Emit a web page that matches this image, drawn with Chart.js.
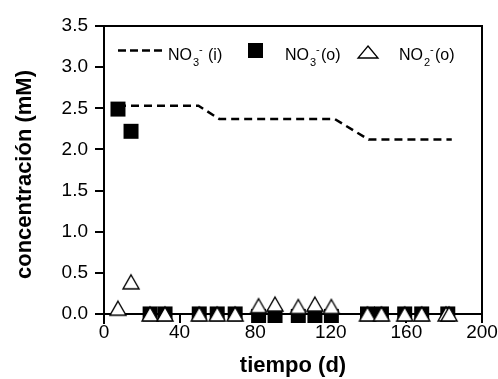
<!DOCTYPE html>
<html><head><meta charset="utf-8">
<script src="https://cdn.jsdelivr.net/npm/chart.js@4/dist/chart.umd.min.js"></script>
<style>html,body{margin:0;padding:0;background:#fff}#w{width:498px;height:379px;position:relative}</style>
</head><body><div id="w"><canvas id="c"></canvas></div>
<script>
// ---- data ----
const xTicks = [0, 40, 80, 120, 160, 200];
const yTicks = [0, 0.5, 1.0, 1.5, 2.0, 2.5, 3.0, 3.5];
const no3InDays = [7.4, 50, 61, 122, 140, 184];
const no3InVals = [2.53, 2.53, 2.37, 2.37, 2.12, 2.12];
const no3OutDays = [7.4, 14.3, 24.4, 32.3, 50.4, 59.9, 69.4, 81.8, 90.5, 102.8, 111.6, 120.3, 139.4, 146.8, 159.1, 168.1, 181.9];
const no3OutVals = [2.49, 2.22, 0, 0, 0, 0, 0, -0.03, -0.03, -0.03, -0.03, -0.03, 0, 0, 0, 0, 0];
const no2OutDays = [7.4, 14.3, 24.4, 32.3, 50.4, 59.9, 69.4, 81.8, 90.5, 102.8, 111.6, 120.3, 139.4, 146.8, 159.1, 168.1, 181.0, 182.6];
const no2OutVals = [0.07, 0.39, 0, 0, 0, 0, 0, 0.10, 0.12, 0.09, 0.12, 0.09, 0, 0, 0, 0, 0, 0];

const FONT = '"Liberation Sans", Arial, sans-serif';

// triangle marker centred on its bounding box
function makeTri(w, h, lw) {
  const c = document.createElement('canvas');
  const pad = 2;
  c.width = w + pad * 2; c.height = h + pad * 2;
  const g = c.getContext('2d');
  g.beginPath();
  g.moveTo(pad + w / 2, pad);
  g.lineTo(pad + w, pad + h);
  g.lineTo(pad, pad + h);
  g.closePath();
  g.fillStyle = '#fff'; g.fill();
  g.lineWidth = lw; g.strokeStyle = '#000'; g.lineJoin = 'miter'; g.stroke();
  return c;
}
const triImg = makeTri(16, 14, 1.4);

const framePlugin = {
  id: 'frame',
  beforeDatasetsDraw(chart) {
    const {ctx, chartArea: a, scales: {x, y}} = chart;
    const y0 = Math.round(y.getPixelForValue(0));
    ctx.save();
    ctx.strokeStyle = '#000'; ctx.lineWidth = 2; ctx.lineCap = 'butt';
    ctx.beginPath();
    ctx.moveTo(a.left, y0); ctx.lineTo(a.right, y0);
    ctx.moveTo(a.left - 1, a.top); ctx.lineTo(a.right + 1, a.top);
    ctx.moveTo(a.right, a.top); ctx.lineTo(a.right, a.bottom);
    xTicks.forEach(v => {
      const px = Math.round(x.getPixelForValue(v));
      ctx.moveTo(px, y0); ctx.lineTo(px, a.bottom);
    });
    ctx.stroke();
    ctx.restore();
  }
};

function chem(ctx, x, yb, sub, tail, gap) {
  ctx.font = '16px ' + FONT;
  ctx.fillText('NO', x, yb);
  let w = ctx.measureText('NO').width;
  ctx.font = '11px ' + FONT;
  ctx.fillText(sub, x + w + 1, yb + 6);
  ctx.fillText('-', x + w + 7, yb - 7);
  ctx.font = '16px ' + FONT;
  ctx.fillText(tail, x + w + 12 + gap, yb);
}

const legendPlugin = {
  id: 'customLegend',
  afterDraw(chart) {
    const {ctx, chartArea: a} = chart;
    const L = a.left, T = a.top;
    ctx.save();
    ctx.fillStyle = '#000'; ctx.strokeStyle = '#000';
    ctx.textBaseline = 'alphabetic';
    // dashed line
    ctx.lineWidth = 2.5; ctx.setLineDash([8, 4]);
    ctx.beginPath(); ctx.moveTo(L + 14, T + 24.5); ctx.lineTo(L + 60, T + 24.5); ctx.stroke();
    ctx.setLineDash([]);
    chem(ctx, L + 64, T + 34, '3', '(i)', 4);
    // square
    ctx.fillRect(L + 144, T + 17, 15, 15);
    chem(ctx, L + 181, T + 34, '3', '(o)', 0);
    // triangle
    ctx.beginPath();
    ctx.moveTo(L + 264, T + 20); ctx.lineTo(L + 274, T + 32); ctx.lineTo(L + 254, T + 32); ctx.closePath();
    ctx.fillStyle = '#fff'; ctx.fill(); ctx.lineWidth = 1.3; ctx.stroke();
    ctx.fillStyle = '#000';
    chem(ctx, L + 295, T + 34, '2', '(o)', 0);
    ctx.restore();
  }
};

new Chart(document.getElementById('c'), {
  type: 'scatter',
  data: {
    datasets: [
      {
        label: 'NO2- (o)',
        data: no2OutDays.map((d, i) => ({x: d, y: no2OutVals[i]})),
        pointStyle: triImg, pointRadius: 8, showLine: false,
        backgroundColor: '#fff', borderColor: '#000'
      },
      {
        label: 'NO3- (o)',
        data: no3OutDays.map((d, i) => ({x: d, y: no3OutVals[i]})),
        pointStyle: 'rect', pointRadius: 10.6, borderWidth: 0,
        backgroundColor: '#000', borderColor: '#000', showLine: false
      },
      {
        label: 'NO3- (i)',
        data: no3InDays.map((d, i) => ({x: d, y: no3InVals[i]})),
        showLine: true, borderColor: '#000', borderWidth: 2.5, borderDash: [8, 5],
        pointRadius: 0, fill: false, tension: 0
      }
    ]
  },
  options: {
    responsive: true, maintainAspectRatio: false, animation: false,
    events: [],
    layout: {padding: {left: 0, right: 16, top: 26, bottom: 0}},
    plugins: {legend: {display: false}, tooltip: {enabled: false}},
    scales: {
      x: {
        type: 'linear', min: 0, max: 200,
        afterFit(s) { s.height = 56; },
        afterBuildTicks(s) { s.ticks = xTicks.map(v => ({value: v})); },
        grid: {display: false, drawTicks: false},
        border: {display: false},
        ticks: {color: '#000', padding: -2, maxRotation: 0, font: {family: FONT, size: 19}},
        title: {display: true, text: 'tiempo (d)', color: '#000', padding: {top: 0, bottom: 0},
          font: {family: FONT, size: 22, weight: 'bold'}}
      },
      y: {
        type: 'linear', min: -0.11, max: 3.5,
        afterFit(s) { s.width = 104; },
        afterBuildTicks(s) { s.ticks = yTicks.map(v => ({value: v})); },
        grid: {display: true, drawOnChartArea: false, drawTicks: true, tickLength: 9, color: '#000', lineWidth: 2},
        border: {display: true, color: '#000', width: 2},
        ticks: {color: '#000', padding: 7, callback: v => Number(v).toFixed(1), font: {family: FONT, size: 19}},
        title: {display: true, text: 'concentración (mM)', color: '#000', padding: {top: 12, bottom: 0},
          font: {family: FONT, size: 22, weight: 'bold'}}
      }
    }
  },
  plugins: [framePlugin, legendPlugin]
});
</script>
</body></html>
